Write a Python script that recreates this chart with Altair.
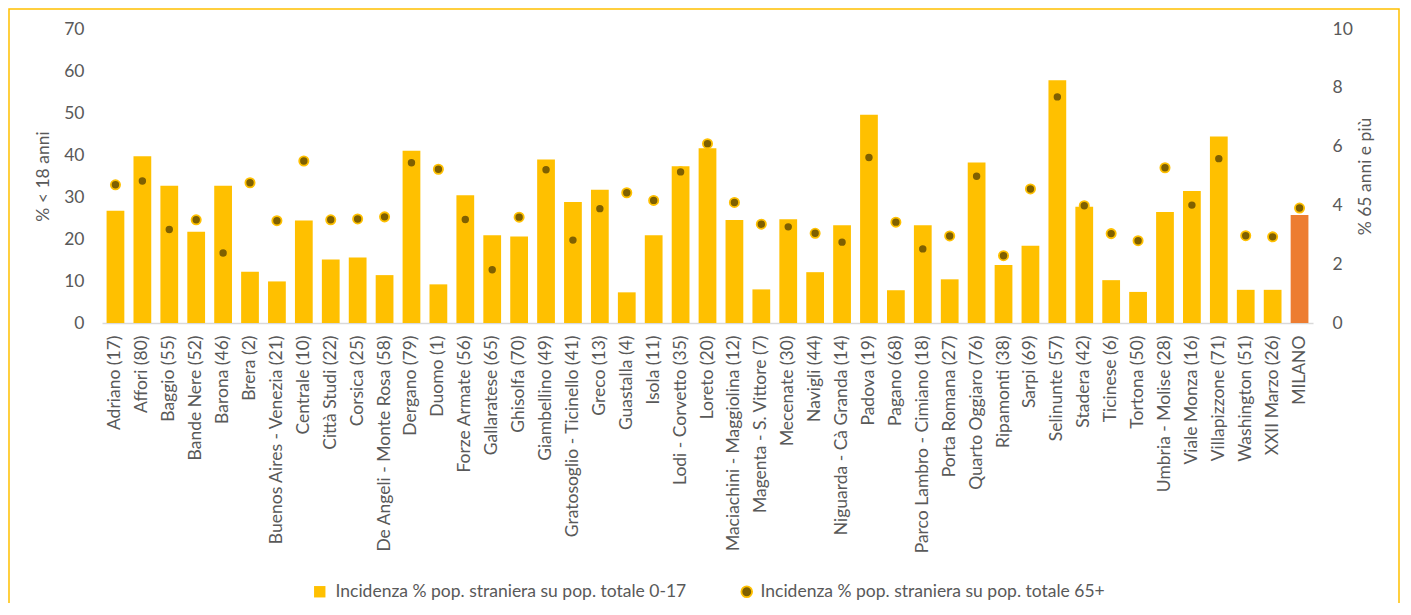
import altair as alt
import pandas as pd

categories = ["Adriano (17)", "Affori (80)", "Baggio (55)", "Bande Nere (52)", "Barona (46)",
              "Brera (2)", "Buenos Aires - Venezia (21)", "Centrale (10)", "Città Studi (22)",
              "Corsica (25)", "De Angeli - Monte Rosa (58)", "Dergano (79)", "Duomo (1)",
              "Forze Armate (56)", "Gallaratese (65)", "Ghisolfa (70)", "Giambellino (49)",
              "Gratosoglio - Ticinello (41)", "Greco (13)", "Guastalla (4)", "Isola (11)",
              "Lodi - Corvetto (35)", "Loreto (20)", "Maciachini - Maggiolina (12)",
              "Magenta - S. Vittore (7)", "Mecenate (30)", "Navigli (44)",
              "Niguarda - Cà Granda (14)", "Padova (19)", "Pagano (68)",
              "Parco Lambro - Cimiano (18)", "Porta Romana (27)", "Quarto Oggiaro (76)",
              "Ripamonti (38)", "Sarpi (69)", "Selinunte (57)", "Stadera (42)", "Ticinese (6)",
              "Tortona (50)", "Umbria - Molise (28)", "Viale Monza (16)", "Villapizzone (71)",
              "Washington (51)", "XXII Marzo (26)", "MILANO"]

under18 = [26.7, 39.7, 32.7, 21.7, 32.7, 12.2, 9.9, 24.4, 15.1, 15.6, 11.4, 41.0, 9.2, 30.4,
           20.9, 20.6, 38.9, 28.8, 31.7, 7.3, 20.9, 37.3, 41.6, 24.5, 8.0, 24.7, 12.1, 23.3,
           49.6, 7.8, 23.3, 10.4, 38.2, 13.8, 18.4, 57.8, 27.7, 10.2, 7.4, 26.4, 31.4, 44.4,
           7.9, 7.9, 25.7]

over65 = [4.70, 4.83, 3.18, 3.51, 2.38, 4.77, 3.48, 5.51, 3.51, 3.54, 3.61, 5.45, 5.23, 3.52,
          1.81, 3.60, 5.21, 2.82, 3.89, 4.43, 4.17, 5.14, 6.10, 4.10, 3.36, 3.27, 3.05, 2.75,
          5.63, 3.43, 2.52, 2.96, 4.99, 2.29, 4.56, 7.69, 3.99, 3.04, 2.80, 5.28, 4.01, 5.59,
          2.97, 2.93, 3.91]

series_bar = "Incidenza % pop. straniera su pop. totale 0-17"
series_pt = "Incidenza % pop. straniera su pop. totale 65+"
left_ticks = [0, 10, 20, 30, 40, 50, 60, 70]
right_ticks = [0, 2, 4, 6, 8, 10]

df = pd.DataFrame({"cat": categories, "u18": under18, "o65": over65})
df["sb"] = series_bar
df["sp"] = series_pt

FONT = "Lato"
TXT = "#595959"
FS = 17.5

x_enc = alt.X("cat:N", sort=categories, title=None,
              scale=alt.Scale(paddingInner=0.34, paddingOuter=0.17),
              axis=alt.Axis(labelAngle=-90, labelPadding=12, ticks=False, domainColor="#D9D9D9",
                            domainWidth=1.5, labelFontSize=FS, labelColor=TXT, labelFont=FONT,
                            labelLimit=400))

bars = alt.Chart(df).mark_bar().encode(
    x=x_enc,
    y=alt.Y("u18:Q", title="% < 18 anni",
            scale=alt.Scale(domain=[0, 70], nice=False),
            axis=alt.Axis(values=left_ticks, grid=False, ticks=False, domain=False,
                          labelPadding=18, labelFontSize=FS, labelColor=TXT, labelFont=FONT,
                          titleFontSize=FS, titleColor=TXT, titleFont=FONT,
                          titleFontWeight="normal", titlePadding=11)),
    color=alt.condition(alt.datum.cat == "MILANO", alt.value("#ED7D31"),
                        alt.Color("sb:N", scale=alt.Scale(domain=[series_bar], range=["#FFC000"]),
                                  legend=alt.Legend(title=None, orient="none", legendX=209,
                                                    legendY=554, symbolType="square",
                                                    symbolSize=130, labelFontSize=FS,
                                                    labelColor=TXT, labelFont=FONT,
                                                    labelOffset=7, padding=0, labelLimit=500)))
)

points = alt.Chart(df).mark_circle(size=85, opacity=1, stroke="#FFC000", strokeWidth=1.8).encode(
    x=alt.X("cat:N", sort=categories),
    y=alt.Y("o65:Q", title="% 65 anni e più",
            scale=alt.Scale(domain=[0, 10], nice=False),
            axis=alt.Axis(orient="right", values=right_ticks, grid=False, ticks=False,
                          domain=False, labelPadding=19, labelFontSize=FS, labelColor=TXT,
                          labelFont=FONT, titleFontSize=FS, titleColor=TXT, titleFont=FONT,
                          titleFontWeight="normal", titlePadding=22, titleAngle=270)),
    fill=alt.Fill("sp:N", scale=alt.Scale(domain=[series_pt], range=["#7F6000"]),
                  legend=alt.Legend(title=None, orient="none", legendX=636, legendY=554,
                                    symbolType="circle", symbolSize=115,
                                    symbolStrokeColor="#FFC000", symbolStrokeWidth=1.8,
                                    labelFontSize=FS, labelColor=TXT, labelFont=FONT,
                                    labelOffset=5, padding=0, labelLimit=500))
)

frame = alt.Chart(alt.Data(values=[{"k": 1}])).mark_rect(
    filled=False, stroke="#FFC000", strokeWidth=1.5
).encode(x=alt.value(-93), x2=alt.value(1297), y=alt.value(-20), y2=alt.value(620))

chart = alt.layer(bars, points, frame).resolve_scale(
    y="independent", color="independent", fill="independent"
).properties(
    width=1211, height=294,
    autosize=alt.AutoSizeParams(type="none"),
    padding={"left": 94, "top": 21, "right": 88, "bottom": 280},
).configure_view(strokeWidth=0)

chart.save("out.html", embed_options={"renderer": "svg", "actions": False})
